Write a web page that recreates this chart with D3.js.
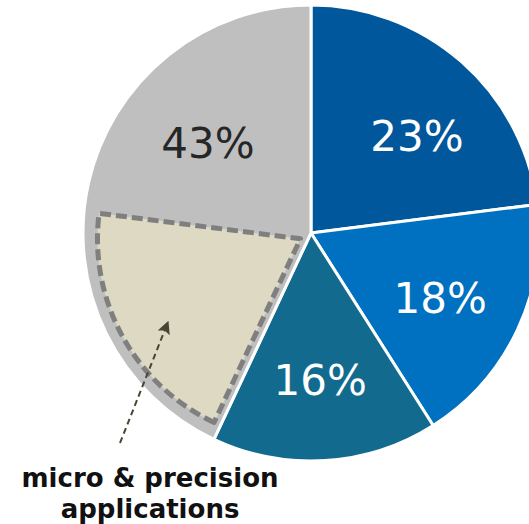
<!DOCTYPE html>
<html>
<head>
<meta charset="utf-8">
<script src="https://cdn.jsdelivr.net/npm/d3@7"></script>
<style>
  html, body { margin: 0; padding: 0; background: #fff; }
  svg { display: block; }
</style>
</head>
<body>
<div id="chart"></div>
<script>
// slice shares, clockwise from 12 o'clock
var names = ['a', 'b', 'c', 'other'];
var shares = [23, 18, 16, 43];
var labels = ['23%', '18%', '16%', '43%'];
var colors = ['#01579B', '#0070C0', '#126A8E', '#BFBFBF'];
var textColors = ['#ffffff', '#ffffff', '#ffffff', '#262626'];

// part of the grey slice picked out
var subShare = 20;
var subLabel = ['micro & precision', 'applications'];

var width = 529, height = 524;
var cx = 311, cy = 233, radius = 228;

var svg = d3.select('#chart').append('svg')
    .attr('width', width)
    .attr('height', height);

var g = svg.append('g').attr('transform', 'translate(' + cx + ',' + cy + ')');

var pie = d3.pie().sort(null).value(function (d) { return d; });
var arcs = pie(shares);
var arc = d3.arc().innerRadius(0).outerRadius(radius);

g.selectAll('path.slice')
    .data(arcs).enter().append('path')
    .attr('class', 'slice')
    .attr('d', arc)
    .attr('fill', function (d, i) { return colors[i]; })
    .attr('stroke', '#fff')
    .attr('stroke-width', 3)
    .attr('stroke-linejoin', 'round');

// highlighted sub-slice, pulled out a little and drawn smaller
var grey = arcs[3];
var total = d3.sum(shares);
var sub = {
  startAngle: grey.startAngle,
  endAngle: grey.startAngle + subShare / total * 2 * Math.PI
};
var subMid = (sub.startAngle + sub.endAngle) / 2;
var pull = 12;
var subArc = d3.arc().innerRadius(0).outerRadius(203);
var subG = g.append('g')
    .attr('transform', 'translate(' + (pull * Math.sin(subMid)) + ',' + (-pull * Math.cos(subMid)) + ')');
subG.append('path')
    .attr('d', subArc(sub))
    .attr('fill', '#DDD9C3')
    .attr('stroke', '#7F7F7F')
    .attr('stroke-width', 5)
    .attr('stroke-dasharray', '11,5')
    .attr('stroke-linejoin', 'round');

// percentage labels
var labelR = 145;
var nudge = [[10, 12], [-2, 4], [0, 3], [7, 5]];
function labelPos(d, i) {
  var a = (d.startAngle + d.endAngle) / 2;
  if (i === 3) a = (sub.endAngle + d.endAngle) / 2 - 0.14;
  return [labelR * Math.sin(a) + nudge[i][0], -labelR * Math.cos(a) + nudge[i][1]];
}
g.selectAll('text.pct')
    .data(arcs).enter().append('text')
    .attr('class', 'pct')
    .attr('x', function (d, i) { return labelPos(d, i)[0]; })
    .attr('y', function (d, i) { return labelPos(d, i)[1]; })
    .attr('text-anchor', 'middle')
    .attr('dominant-baseline', 'central')
    .attr('font-family', 'DejaVu Sans, Verdana, sans-serif')
    .attr('font-size', '42px')
    .attr('fill', function (d, i) { return textColors[i]; })
    .text(function (d, i) { return labels[i]; });

// arrow to the sub-slice
svg.append('defs').append('marker')
    .attr('id', 'head')
    .attr('viewBox', '0 0 10 10')
    .attr('refX', 9).attr('refY', 5)
    .attr('markerWidth', 6.5).attr('markerHeight', 6.5)
    .attr('orient', 'auto')
    .append('path')
    .attr('d', 'M0,0 L10,5 L0,10 L2,5 z')
    .attr('fill', '#4A4530');

svg.append('line')
    .attr('x1', 120).attr('y1', 443)
    .attr('x2', 168).attr('y2', 322)
    .attr('stroke', '#4A4530')
    .attr('stroke-width', 2)
    .attr('stroke-dasharray', '6,4')
    .attr('marker-end', 'url(#head)');

svg.append('text')
    .attr('x', 150).attr('y', 487)
    .attr('text-anchor', 'middle')
    .attr('font-family', 'DejaVu Sans, Verdana, sans-serif')
    .attr('font-weight', 'bold')
    .attr('font-size', '26px')
    .attr('fill', '#111')
    .selectAll('tspan')
    .data(subLabel).enter().append('tspan')
    .attr('x', 150)
    .attr('dy', function (d, i) { return i === 0 ? 0 : 31; })
    .text(function (d) { return d; });
</script>
</body>
</html>
